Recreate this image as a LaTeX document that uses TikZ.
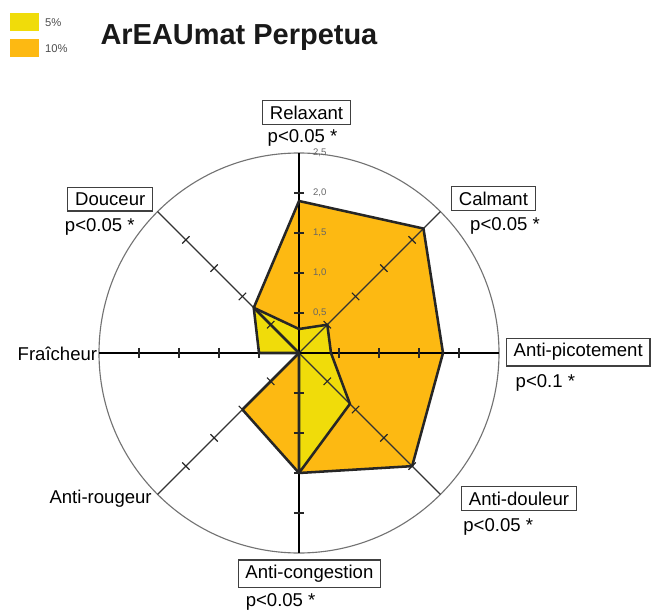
\documentclass[tikz,border=0pt]{standalone}
\usepackage{fontspec}
\setmainfont{Liberation Sans}
\usepackage{tikz}
\definecolor{lowdose}{RGB}{240,220,10}
\definecolor{highdose}{RGB}{253,185,18}
\tikzset{catbox/.style={draw=black!75, line width=0.45pt, inner xsep=2.6pt, inner ysep=1.8pt, font=\fontsize{6.6}{7}\selectfont}}
\tikzset{catlabel/.style={inner sep=0, font=\fontsize{6.6}{7}\selectfont}}
\tikzset{ticklab/.style={inner sep=0, anchor=west, text=black!60, font=\fontsize{3.4}{4}\selectfont}}
\tikzset{outline/.style={black!85, line width=0.9pt, line join=round}}

\begin{document}
\begin{tikzpicture}
  \useasboundingbox (-3.7375,-3.2125) rectangle (4.4125,4.4125);

  % legend and title
  \fill[lowdose] (-3.6125,4.025) rectangle (-3.25,4.25);
  \fill[highdose] (-3.6125,3.7) rectangle (-3.25,3.925);
  \node[anchor=west, inner sep=0, text=black!70, font=\fontsize{4}{5}\selectfont] at (-3.18,4.13) (low) {5\%};
  \node[anchor=west, inner sep=0, text=black!70, font=\fontsize{4}{5}\selectfont] at (-3.18,3.81) (high) {10\%};
  \node[anchor=base west, inner sep=0, text=black!90, font=\fontsize{10.3}{12}\selectfont\bfseries] at (-2.4875,3.85) (title) {ArEAUmat Perpetua};

  \fill[highdose] (90:1.9) -- (45:2.2) -- (0:1.8) -- (-45:2.0) -- (-90:1.5) -- (-135:1.0) -- (0,0) -- (135:0.8) -- cycle;
  \fill[lowdose] (90:0.3) -- (45:0.5) -- (0:0.4) -- (-45:0.9) -- (-90:1.5) -- (0,0) -- (180:0.5) -- (135:0.8) -- cycle;

  \draw[black!55, line width=0.4pt] (0,0) circle (2.5);
  \foreach \a in {45, 135, 225, 315} {
    \draw[black!80, line width=0.4pt] (0,0) -- (\a:2.5);
  }
  \foreach \a in {0, 90, 180, 270} {
    \draw[black, line width=0.6pt] (0,0) -- (\a:2.5);
  }
  \foreach \a in {0, 45, ..., 315} {
    \begin{scope}[rotate=\a]
      \foreach \r in {0.5, 1, 1.5, 2} {
        \draw[black!85, line width=0.4pt] (\r, -0.065) -- (\r, 0.065);
      }
    \end{scope}
  }
  \foreach \v/\a/\b in {0.5/0/5, 1/1/0, 1.5/1/5, 2/2/0, 2.5/2/5} {
    \node[ticklab] at (0.17, \v) (tick\a\b) {\a,\b};
  }

  \draw[outline] (90:1.9) -- (45:2.2) -- (0:1.8) -- (-45:2.0) -- (-90:1.5) -- (-135:1.0) -- (0,0) -- (135:0.8) -- cycle;
  \draw[outline] (90:0.3) -- (45:0.5) -- (0:0.4) -- (-45:0.9) -- (-90:1.5) -- (0,0) -- (180:0.5) -- (135:0.8) -- cycle;

  % categories
  \node[catbox] at (0.094, 3.006) (relaxant) {Relaxant};
  \node[catlabel] at (0.044, 2.69) (relaxantp) {p<0.05 *};
  \node[catbox] at (2.43, 1.93) (calmant) {Calmant};
  \node[catlabel] at (2.575, 1.59) (calmantp) {p<0.05 *};
  \node[catbox] at (3.49, 0.01) (picot) {Anti-picotement};
  \node[catlabel] at (3.08, -0.38) (picotp) {p<0.1 *};
  \node[catbox] at (2.75, -1.82) (douleur) {Anti-douleur};
  \node[catlabel] at (2.49, -2.18) (douleurp) {p<0.05 *};
  \node[catbox] at (0.13, -2.76) (congest) {Anti-congestion};
  \node[catlabel] at (-0.23, -3.11) (congestp) {p<0.05 *};
  \node[catlabel] at (-2.48, -1.82) (rougeur) {Anti-rougeur};
  \node[catlabel] at (-3.02, -0.01) (fraicheur) {Fraîcheur};
  \node[catbox] at (-2.36, 1.92) (douceur) {Douceur};
  \node[catlabel] at (-2.49, 1.57) (douceurp) {p<0.05 *};
\end{tikzpicture}
\end{document}
